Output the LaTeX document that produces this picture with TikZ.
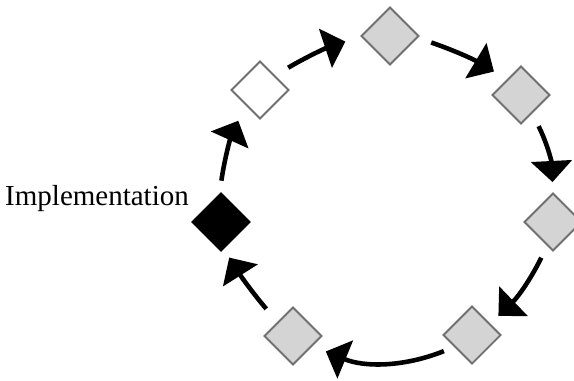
\documentclass[tikz,border=0pt]{standalone}
\usepackage{fontspec}
\setmainfont{Liberation Serif}
\usetikzlibrary{shapes.geometric,arrows.meta}

\definecolor{phasefill}{RGB}{212,212,212}
\definecolor{phaseline}{RGB}{112,112,112}

\tikzset{
  phase/.style={diamond,draw=phaseline,line width=1.1pt,fill=phasefill,
    minimum width=1.16cm,minimum height=1.16cm,inner sep=0pt},
  current/.style={phase,draw=black,fill=black},
  open/.style={phase,fill=white},
  flow/.style={line width=2.6pt,-{Triangle[length=12pt,width=23pt]}}
}

\begin{document}
\begin{tikzpicture}[x=0.02cm,y=-0.02cm]
	\clip (0,0) rectangle (574,380);
	% the cycle of phases, one diamond per phase
	\node[current] (impl) at (221,222) {};
	\node[open] (p1) at (260,90) {};
	\node[phase] (p2) at (390,36) {};
	\node[phase] (p3) at (521,95) {};
	\node[phase] (p4) at (553,222) {};
	\node[phase] (p5) at (472,335) {};
	\node[phase] (p6) at (293,336) {};
	\node[anchor=base east,font=\fontsize{16.5}{18}\selectfont] (label) at (195,205) {Implementation};
	% arrows going round clockwise
	\draw[flow,shorten <=0.26cm,shorten >=0.34cm] (impl.93) to[bend left=8] (p1.226);
	\draw[flow,shorten <=0.30cm,shorten >=0.32cm] (p1.44) to[bend left=6] (p2.181);
	\draw[flow,shorten <=0.28cm,shorten >=0.30cm] (p2.356) to[bend left=6] (p3.132);
	\draw[flow,shorten <=0.28cm,shorten >=0.20cm] (p3.301) to[bend left=12] (p4.90);
	\draw[flow,shorten <=0.26cm,shorten >=0.22cm] (p4.256) to[bend left=10] (p5.32);
	\draw[flow,shorten <=0.22cm,shorten >=0.28cm] (p5.214) to[bend left=22] (p6.333);
	\draw[flow,shorten <=0.34cm,shorten >=0.20cm] (p6.138) to[bend left=4] (impl.276);
\end{tikzpicture}
\end{document}
